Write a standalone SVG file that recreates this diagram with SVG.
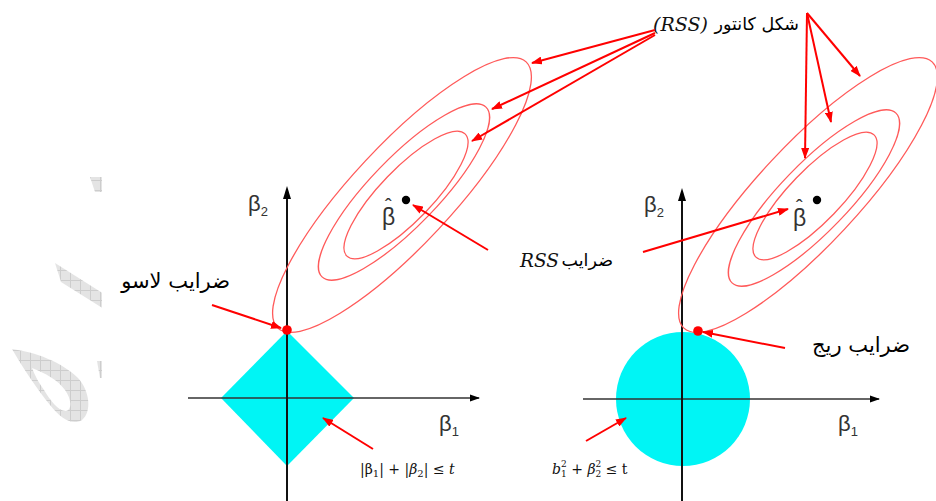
<svg xmlns="http://www.w3.org/2000/svg" width="936" height="501" viewBox="0 0 936 501">
  <defs>
    <pattern id="grid" width="10" height="10" patternUnits="userSpaceOnUse">
      <rect width="10" height="10" fill="#e4e4e4"/>
      <path d="M0,0.5 H10 M0.5,0 V10" stroke="#cdcdcd" stroke-width="1"/>
    </pattern>
    <marker id="ah" markerUnits="userSpaceOnUse" markerWidth="11" markerHeight="8" refX="10" refY="4" orient="auto">
      <path d="M0,0 L11,4 L0,8 z" fill="#ff0000"/>
    </marker>
    <marker id="axh" markerUnits="userSpaceOnUse" markerWidth="10" markerHeight="8" refX="9" refY="4" orient="auto">
      <path d="M0,0.5 L10,4 L0,7.5 z" fill="#000"/>
    </marker>
    <clipPath id="wmclip"><rect x="0" y="0" width="102" height="501"/></clipPath>
  </defs>
  <style>
    .cont { fill: none; stroke: #ff5a5a; stroke-width: 1.3; }
    .arr { fill: none; stroke: #ff0000; stroke-width: 2; marker-end: url(#ah); }
    .axis { stroke: #111; stroke-width: 2; fill: none; }
    .haxis { stroke: #333; stroke-width: 1.6; fill: none; marker-end: url(#axh); }
    .fa { font-family: "DejaVu Sans", "Noto Sans", sans-serif; fill: #000; }
    .beta { font-family: "Liberation Sans", "DejaVu Sans", sans-serif; fill: #333; }
    .math { font-family: "DejaVu Serif", "Liberation Serif", serif; fill: #111; }
    .region { fill: #00f5f5; }
  </style>
  <rect width="936" height="501" fill="#ffffff"/>

  <!-- watermark -->
  <g id="watermark" clip-path="url(#wmclip)" fill="url(#grid)">
    <polygon points="90,177 104,177 104,192 95,192"/>
    <polygon points="55,263 104,294 104,309 61,282"/>
    <path fill-rule="evenodd" d="M12,349 C35,352 62,362 78,378 C90,391 92,412 82,420 C72,426 60,418 50,405 C38,390 24,370 12,349 Z M32,368 C45,373 58,380 65,390 C72,400 72,410 66,411 C58,411 50,400 44,390 C39,383 35,376 32,368 Z"/>
    <polygon points="97,361 104,361 104,378 100,378"/>
  </g>

  <!-- Lasso panel -->
  <g id="lasso-region">
    <polygon class="region" points="287,331 354,398 287,466 221,398"/>
  </g>
  <g id="lasso-axes">
    <line class="haxis" x1="188" y1="398" x2="479" y2="398"/>
    <line class="axis" x1="287" y1="501" x2="287" y2="198"/>
    <path d="M287,186 L291,199 L283,199 z" fill="#000"/>
    <text class="beta" x="248" y="211" font-size="22">β<tspan font-size="13" dy="5">2</tspan></text>
    <text class="beta" x="439" y="431" font-size="22">β<tspan font-size="13" dy="5">1</tspan></text>
  </g>
  <g id="lasso-contours">
    <ellipse class="cont" cx="402" cy="195" rx="182" ry="50" transform="rotate(-47 402 195)"/>
    <ellipse class="cont" cx="404" cy="192" rx="118" ry="34" transform="rotate(-46 404 192)"/>
    <ellipse class="cont" cx="406" cy="195" rx="85" ry="26" transform="rotate(-46 406 195)"/>
  </g>
  <g id="lasso-betahat">
    <circle cx="406" cy="200" r="4.2" fill="#000"/>
    <text class="beta" x="382" y="225" font-size="23">β<tspan x="385" y="213" font-size="20">ˆ</tspan></text>
  </g>
  <g id="lasso-point">
    <circle cx="287" cy="330" r="4.8" fill="#ff0000"/>
  </g>

  <!-- Ridge panel -->
  <g id="ridge-region">
    <circle class="region" cx="683" cy="399" r="67"/>
  </g>
  <g id="ridge-axes">
    <line class="haxis" x1="583" y1="399" x2="879" y2="399"/>
    <line class="axis" x1="682" y1="501" x2="682" y2="200"/>
    <path d="M682,188 L686,201 L678,201 z" fill="#000"/>
    <text class="beta" x="644" y="212" font-size="22">β<tspan font-size="13" dy="5">2</tspan></text>
    <text class="beta" x="838" y="431" font-size="22">β<tspan font-size="13" dy="5">1</tspan></text>
  </g>
  <g id="ridge-contours">
    <ellipse class="cont" cx="808" cy="195" rx="182" ry="50" transform="rotate(-47 808 195)"/>
    <ellipse class="cont" cx="814" cy="198" rx="118" ry="34" transform="rotate(-46 814 198)"/>
    <ellipse class="cont" cx="815" cy="196" rx="85" ry="26" transform="rotate(-46 815 196)"/>
  </g>
  <g id="ridge-betahat">
    <circle cx="817" cy="200" r="4.2" fill="#000"/>
    <text class="beta" x="793" y="226" font-size="23">β<tspan x="796" y="214" font-size="20">ˆ</tspan></text>
  </g>
  <g id="ridge-point">
    <circle cx="698" cy="331" r="4.8" fill="#ff0000"/>
  </g>

  <!-- Labels -->
  <g id="label-contours">
    <text class="fa" x="799" y="30" font-size="17.5" text-anchor="end">شکل کانتور</text>
    <text class="math" x="653" y="31" font-size="19" font-style="italic">(RSS)</text>
  </g>
  <g id="label-rss-coef">
    <text class="fa" x="613" y="266" font-size="17.5" text-anchor="end">ضرایب</text>
    <text class="math" x="520" y="267" font-size="18.5" font-style="italic">RSS</text>
  </g>
  <g id="label-lasso">
    <text class="fa" x="230" y="288" font-size="21" text-anchor="end">ضرایب لاسو</text>
  </g>
  <g id="label-ridge">
    <text class="fa" x="910" y="352" font-size="21" text-anchor="end">ضرایب ریج</text>
  </g>
  <g id="label-l1">
    <text class="math" x="360" y="474" font-size="14">|β<tspan font-size="10" dy="3">1</tspan><tspan dy="-3">| + |</tspan><tspan font-style="italic">β</tspan><tspan font-size="10" dy="3">2</tspan><tspan dy="-3">| ≤ </tspan><tspan font-style="italic">t</tspan></text>
  </g>
  <g id="label-l2">
    <text class="math" x="552" y="474" font-size="14"><tspan font-style="italic">b</tspan><tspan font-size="9" dy="3">1</tspan><tspan font-size="9" dx="-5.7" dy="-10">2</tspan><tspan dy="7"> + </tspan><tspan font-style="italic">β</tspan><tspan font-size="9" dy="3">2</tspan><tspan font-size="9" dx="-5.7" dy="-10">2</tspan><tspan dy="7"> ≤ t</tspan></text>
  </g>

  <!-- Connectors -->
  <g id="connectors">
    <line class="arr" x1="655" y1="30" x2="532" y2="63"/>
    <line class="arr" x1="655" y1="33" x2="492" y2="109"/>
    <line class="arr" x1="655" y1="35" x2="472" y2="141"/>
    <line class="arr" x1="807" y1="13" x2="860" y2="76"/>
    <line class="arr" x1="807" y1="13" x2="831" y2="122"/>
    <line class="arr" x1="807" y1="13" x2="805" y2="158"/>
    <line class="arr" x1="488" y1="250" x2="413" y2="205"/>
    <line class="arr" x1="643" y1="252" x2="788" y2="209"/>
    <line class="arr" x1="212" y1="305" x2="281" y2="328"/>
    <line class="arr" x1="785" y1="348" x2="703" y2="332"/>
    <line class="arr" x1="373" y1="449" x2="323" y2="418"/>
    <line class="arr" x1="586" y1="441" x2="626" y2="418"/>
  </g>
</svg>
